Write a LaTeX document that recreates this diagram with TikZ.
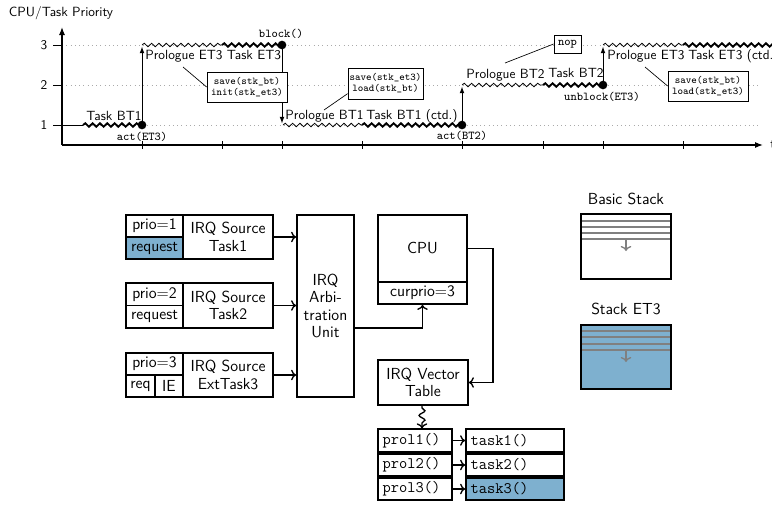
\documentclass[tikz,border=0pt]{standalone}
\usetikzlibrary{decorations.pathmorphing,arrows.meta}
\definecolor{fillblue}{RGB}{126,176,207}
\definecolor{gridgray}{RGB}{170,170,170}
\definecolor{stackgray}{RGB}{128,128,128}
\newcommand\fsTime{\fontsize{10}{12}\selectfont}
\newcommand\fsCode{\fontsize{9}{11}\selectfont}
\newcommand\fsNote{\fontsize{7.8}{8.3}\selectfont}
\newcommand\fsMain{\fontsize{12}{13.2}\selectfont}
\begin{document}
\begin{tikzpicture}[x=0.75pt,y=-0.75pt,font=\sffamily,
  size/.style 2 args={minimum width=#1*0.75pt, minimum height=#2*0.75pt},
  grid/.style={gridgray, line width=0.5pt, dash pattern=on 0.7pt off 2.5pt},
  axis/.style={line width=0.9pt},
  tickmark/.style={line width=0.6pt},
  flat/.style={line width=0.6pt},
  thinwave/.style={line width=0.6pt, decorate, decoration={snake, amplitude=1.3pt, segment length=5.5pt}},
  thickwave/.style={line width=1.4pt, decorate, decoration={snake, amplitude=1.3pt, segment length=5.5pt}},
  event/.style={circle, fill=black, inner sep=0pt, minimum size=6.5pt},
  jump/.style={line width=0.7pt, -{Latex[length=5pt,width=3.6pt]}},
  lbl/.style={font=\sffamily\fsTime, inner sep=0pt, anchor=base},
  codelbl/.style={font=\ttfamily\fsCode, inner sep=0pt, anchor=base},
  note/.style={draw, fill=white, line width=0.6pt, font=\ttfamily\fsNote, align=center, inner sep=0pt},
  pinline/.style={line width=0.5pt},
  blk/.style={draw, line width=1.3pt, inner sep=0pt, font=\sffamily\fsMain, align=center},
  codebox/.style={draw, line width=1.3pt, font=\ttfamily\fsMain, inner xsep=3.5pt, inner ysep=0pt, align=left, minimum height=16.8pt},
  link/.style={line width=1pt, ->},
  stackline/.style={stackgray, line width=1.5pt},
]
\useasboundingbox (0,0) rectangle (772,504);

% ---------------- priority over time ----------------
\foreach \yy in {45,85,125} \draw[grid] (62,\yy) -- (760,\yy);

\coordinate (O) at (62,145);
\coordinate (ytop) at (62,27);
\coordinate (xend) at (763,145);
\draw[axis, -{Latex[length=6pt,width=4.5pt]}] (O) -- (ytop);
\draw[axis, -{Latex[length=6pt,width=4.5pt]}] (O) -- (xend);
\node[lbl] (ylab) at (61,16.5) {CPU/Task Priority};
\node[lbl, anchor=base west] (xlab) at (770,148.5) {t};

\foreach \lv/\yy in {1/125,2/85,3/45} {
  \draw[tickmark] (53,\yy) -- (62,\yy);
  \node[font=\sffamily\fsTime, inner sep=0pt] (lv\lv) at (44,\yy) {\lv};
}
\foreach \xx in {142,222,282,362,462,543,603,683}
  \draw[tickmark] (\xx,141) -- (\xx,149);

% events
\node[event] (e1) at (142,125) {};
\node[event] (e2) at (282,45) {};
\node[event] (e3) at (462,125) {};
\node[event] (e4) at (603,85) {};

% segment end points
\coordinate (s0) at (62,125);
\coordinate (s1) at (83,125);
\coordinate (h1) at (142,46.5);
\coordinate (p1) at (142,45);
\coordinate (p1b) at (222,45);
\coordinate (h2) at (282,123.5);
\coordinate (p2) at (283,125);
\coordinate (p2b) at (362,125);
\coordinate (h3) at (462,86.5);
\coordinate (p3) at (462,85);
\coordinate (p3b) at (543,85);
\coordinate (h4) at (603,46.5);
\coordinate (p4) at (603,45);
\coordinate (p4b) at (683,45);
\coordinate (p4e) at (790,45);

\draw[flat] (s0) -- (s1);
\draw[thickwave] (s1) -- (e1.center);
\draw[jump] (e1.center) -- (h1);
\draw[thinwave] (p1) -- (p1b);
\draw[thickwave] (p1b) -- (e2.center);
\draw[jump] (e2.center) -- (h2);
\draw[thinwave] (p2) -- (p2b);
\draw[thickwave] (p2b) -- (e3.center);
\draw[jump] (e3.center) -- (h3);
\draw[thinwave] (p3) -- (p3b);
\draw[thickwave] (p3b) -- (e4.center);
\draw[jump] (e4.center) -- (h4);
\draw[thinwave] (p4) -- (p4b);
\draw[thickwave] (p4b) -- (p4e);

% phase labels
\node[lbl] (tBT1) at (114,120.5) {Task BT1};
\node[lbl] (pET3) at (184,59.5) {Prologue ET3};
\node[lbl] (tET3) at (254,59.5) {Task ET3};
\node[lbl] (pBT1) at (324.5,119) {Prologue BT1};
\node[lbl] (tBT1c) at (412,119) {Task BT1 (ctd.)};
\node[lbl] (pBT2) at (505.5,78) {Prologue BT2};
\node[lbl] (tBT2) at (576,77) {Task BT2};
\node[lbl] (pET3b) at (646,59.5) {Prologue ET3};
\node[lbl, anchor=base west] (tET3c) at (688,59.5) {Task ET3 (ctd.)};

% event labels
\node[codelbl] (lact1) at (142,140) {act(ET3)};
\node[codelbl] (lblock) at (281,37.5) {block()};
\node[codelbl] (lact2) at (462,139.5) {act(BT2)};
\node[codelbl] (lunblock) at (602,100) {unblock(ET3)};

% stack operations
\node[note, size={80}{30}] (n1) at (247,87) {save(stk\_bt)\\init(stk\_et3)};
\coordinate (n1from) at (183,67);
\draw[pinline] (n1from) -- (n1.west);
\node[note, size={75}{31}] (n2) at (385.5,83.5) {save(stk\_et3)\\load(stk\_bt)};
\coordinate (n2from) at (324,110);
\draw[pinline] (n2from) -- (n2.195);
\node[note, size={27}{18}, font=\ttfamily\fsCode] (n3) at (567.5,44) {nop};
\coordinate (n3from) at (505,63);
\draw[pinline] (n3from) -- (n3.west);
\node[note, size={80}{30}] (n4) at (708,86) {save(stk\_bt)\\load(stk\_et3)};
\coordinate (n4from) at (645,67);
\draw[pinline] (n4from) -- (n4.west);

% ---------------- interrupt hardware ----------------
\node[blk, size={57}{22}] (prio1) at (154.5,226) {prio=1};
\node[blk, size={57}{22}, fill=fillblue] (req1) at (154.5,248) {request};
\node[blk, size={90}{44}] (src1) at (228,237) {IRQ Source\\Task1};

\node[blk, size={57}{22.5}] (prio2) at (154.5,294.25) {prio=2};
\node[blk, size={57}{22.5}] (req2) at (154.5,316.75) {request};
\node[blk, size={90}{45}] (src2) at (228,305.5) {IRQ Source\\Task2};

\node[blk, size={57}{22}] (prio3) at (154.5,364) {prio=3};
\node[blk, size={29}{22}] (req3) at (140.5,386) {req};
\node[blk, size={28}{22}] (ie3) at (169,386) {IE};
\node[blk, size={90}{44}] (src3) at (228,375) {IRQ Source\\ExtTask3};

\node[blk, size={57}{182}] (arb) at (325.5,306) {IRQ\\Arbi-\\tration\\Unit};

\node[blk, size={89}{67}] (cpu) at (422.5,248.5) {CPU};
\node[blk, size={89}{22}] (curprio) at (422.5,293) {curprio=3};

\node[blk, size={90}{45}] (vec) at (423,382.5) {IRQ Vector\\Table};

\node[codebox, text width=48.5pt] (prol1) at (415,440.5) {prol1()};
\node[codebox, text width=48.5pt] (prol2) at (415,465) {prol2()};
\node[codebox, text width=48.5pt] (prol3) at (415,489) {prol3()};
\node[codebox, text width=66.5pt] (task1) at (515,440.5) {task1()};
\node[codebox, text width=66.5pt] (task2) at (515,465) {task2()};
\node[codebox, text width=66.5pt, fill=fillblue] (task3) at (515,489) {task3()};

\draw[link] (src1.east) -- (src1.east -| arb.west);
\draw[link] (src2.east) -- (src2.east -| arb.west);
\draw[link] (src3.east) -- (src3.east -| arb.west);
\draw[link] ([yshift=-16.5pt]arb.east) -| (curprio.south);
\draw[link] (cpu.east) -- ++(25,0) |- (vec.east);
\draw[link, decorate, decoration={snake, amplitude=2.2pt, segment length=7pt, pre length=1.5pt, post length=4pt}]
  ([xshift=-0.75pt]vec.south) -- ([xshift=-0.75pt]vec.south |- prol1.north);
\draw[link] (prol1.east) -- (task1.west);
\draw[link] (prol2.east) -- (task2.west);
\draw[link] (prol3.east) -- (task3.west);

% ---------------- stacks ----------------
\node[font=\sffamily\fsMain] (bslabel) at (626,199) {Basic Stack};
\node[draw, line width=1.3pt, size={90}{65}] (bstack) at (626,246.5) {};
\foreach \yy in {221,227,233,239} \draw[stackline] (582,\yy) -- (670,\yy);
\draw[stackgray, line width=1pt, ->] (626,239) -- (626,251);

\node[font=\sffamily\fsMain] (eslabel) at (626,309) {Stack ET3};
\node[draw, line width=1.3pt, fill=fillblue, size={90}{64}] (estack) at (626,357) {};
\foreach \yy in {331,337,344,350} \draw[stackline] (582,\yy) -- (670,\yy);
\draw[stackgray, line width=1pt, ->] (626,350) -- (626,362);
\end{tikzpicture}
\end{document}
